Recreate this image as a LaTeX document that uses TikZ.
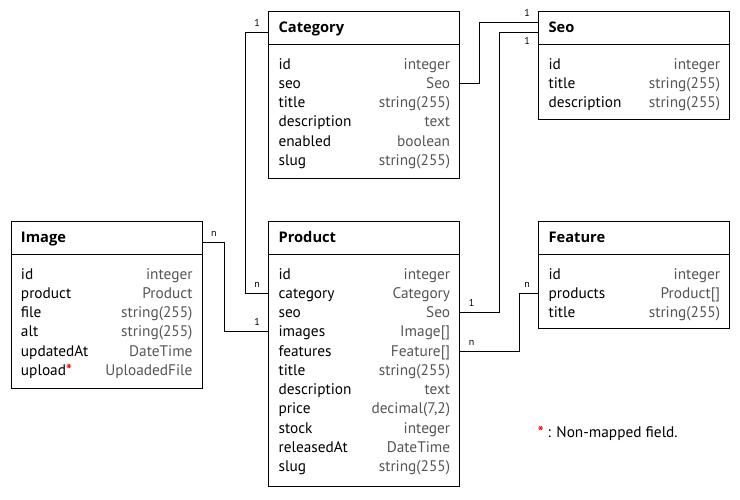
\documentclass[tikz,border=0pt]{standalone}
\usepackage{fontspec}
\setmainfont{PT Sans}
\newfontfamily\headfont{Open Sans}
\usepackage{xcolor}
\usetikzlibrary{positioning,calc}
\definecolor{typegray}{HTML}{555555}
\tikzstyle{entity}=[draw, rectangle, line width=0.8pt, anchor=north west,
  minimum width=143.25pt, inner sep=0pt]
\tikzstyle{entityhead}=[anchor=base west, inner sep=0pt, font=\headfont\fontsize{11}{13}\selectfont\bfseries]
\tikzstyle{fieldname}=[anchor=base west, inner sep=0pt, text height=9pt, text depth=1.5pt]
\tikzstyle{fieldtype}=[anchor=base east, inner sep=0pt, text=typegray]
\tikzstyle{link}=[line width=0.7pt]
\tikzstyle{cardl}=[font=\fontsize{7.5}{8}\selectfont, inner sep=0pt, anchor=base east, xshift=-6pt, yshift=4.5pt]
\tikzstyle{cardr}=[font=\fontsize{7.5}{8}\selectfont, inner sep=0pt, anchor=base west, xshift=6pt, yshift=4.5pt]
\tikzstyle{cardbl}=[font=\fontsize{7.5}{8}\selectfont, inner sep=0pt, anchor=base east, xshift=-6pt, yshift=-9.5pt]

\begin{document}
\begin{tikzpicture}[x=0.75pt, y=-0.75pt, font=\fontsize{11.5}{13}\selectfont]
  \useasboundingbox (0,0) rectangle (740,500);
  % Category
  \node[entity, minimum height=125.7pt] (category) at (268.3,10.7) {};
  \draw ($(category.north west)+(0,33.3)$) -- ($(category.north east)+(0,33.3)$);
  \node[entityhead] (category-head) at ($(category.north west)+(10,21.6)$) {Category};
  \foreach \name/\kind [count=\i from 0] in {id/integer, seo/Seo, title/string(255),
    description/text, enabled/boolean, slug/string(255)} {
    \node[fieldname] (category-\name) at ($(category.north west)+(10,58.3+19.25*\i)$) {\name};
    \node[fieldtype] (category-\name-type) at ($(category.north east)+(-10,58.3+19.25*\i)$) {\kind};
  }
  % Seo
  \node[entity, minimum height=81pt] (seo) at (538.3,10.7) {};
  \draw ($(seo.north west)+(0,33.3)$) -- ($(seo.north east)+(0,33.3)$);
  \node[entityhead] (seo-head) at ($(seo.north west)+(10,21.6)$) {Seo};
  \foreach \name/\kind [count=\i from 0] in {id/integer, title/string(255),
    description/string(255)} {
    \node[fieldname] (seo-\name) at ($(seo.north west)+(10,58.3+19.25*\i)$) {\name};
    \node[fieldtype] (seo-\name-type) at ($(seo.north east)+(-10,58.3+19.25*\i)$) {\kind};
  }
  \coordinate (seo-in) at ($(seo.north west)+(0,11.6)$);
  % Image
  \node[entity, minimum height=125.7pt] (image) at (10.7,220.7) {};
  \draw ($(image.north west)+(0,33.3)$) -- ($(image.north east)+(0,33.3)$);
  \node[entityhead] (image-head) at ($(image.north west)+(10,21.6)$) {Image};
  \foreach \name/\kind [count=\i from 0] in {id/integer, product/Product, file/string(255),
    alt/string(255), updatedAt/DateTime} {
    \node[fieldname] (image-\name) at ($(image.north west)+(10,58.3+19.25*\i)$) {\name};
    \node[fieldtype] (image-\name-type) at ($(image.north east)+(-10,58.3+19.25*\i)$) {\kind};
  }
  \node[fieldname] (image-upload) at ($(image.north west)+(10,58.3+19.25*5)$)
    {upload{\color{red}\bfseries*}};
  \node[fieldtype] (image-upload-type) at ($(image.north east)+(-10,58.3+19.25*5)$) {UploadedFile};
  % Product
  \node[entity, minimum height=199.2pt] (product) at (268.3,220.7) {};
  \draw ($(product.north west)+(0,33.3)$) -- ($(product.north east)+(0,33.3)$);
  \node[entityhead] (product-head) at ($(product.north west)+(10,21.6)$) {Product};
  \foreach \name/\kind [count=\i from 0] in {id/integer, category/Category, seo/Seo,
    images/Image[], features/Feature[], title/string(255), description/text,
    price/{decimal(7,2)}, stock/integer, releasedAt/DateTime, slug/string(255)} {
    \node[fieldname] (product-\name) at ($(product.north west)+(10,58.3+19.25*\i)$) {\name};
    \node[fieldtype] (product-\name-type) at ($(product.north east)+(-10,58.3+19.25*\i)$) {\kind};
  }
  % Feature
  \node[entity, minimum height=80.7pt] (feature) at (538.3,220.7) {};
  \draw ($(feature.north west)+(0,33.3)$) -- ($(feature.north east)+(0,33.3)$);
  \node[entityhead] (feature-head) at ($(feature.north west)+(10,21.6)$) {Feature};
  \foreach \name/\kind [count=\i from 0] in {id/integer, products/Product[],
    title/string(255)} {
    \node[fieldname] (feature-\name) at ($(feature.north west)+(10,58.3+19.25*\i)$) {\name};
    \node[fieldtype] (feature-\name-type) at ($(feature.north east)+(-10,58.3+19.25*\i)$) {\kind};
  }
  % relations
  \draw[link] (category.west |- category-head.base) node[cardl]{1} -- ++(-22.6,0)
    |- (product.west |- product-category) node[cardl]{n};
  \draw[link] (image.east |- image-head.base) node[cardr]{n} -- ++(21.3,0)
    |- (product.west |- product-images) node[cardl]{1};
  \draw[link] (category.east |- category-seo) -- ++(19,0) |- (seo-in) node[cardl]{1};
  \draw[link] (product.east |- product-seo) node[cardr]{1} -- ++(39,0)
    |- (seo.west |- seo-head.base) node[cardbl]{1};
  \draw[link] (product.east |- product-features) node[cardr]{n} -- ++(59,0)
    |- (feature.west |- feature-products) node[cardl]{n};
  % legend
  \node[anchor=base west, inner sep=0pt] (legend) at (537.5,437.5)
    {{\color{red}\bfseries*} : Non-mapped field.};
\end{tikzpicture}
\end{document}
